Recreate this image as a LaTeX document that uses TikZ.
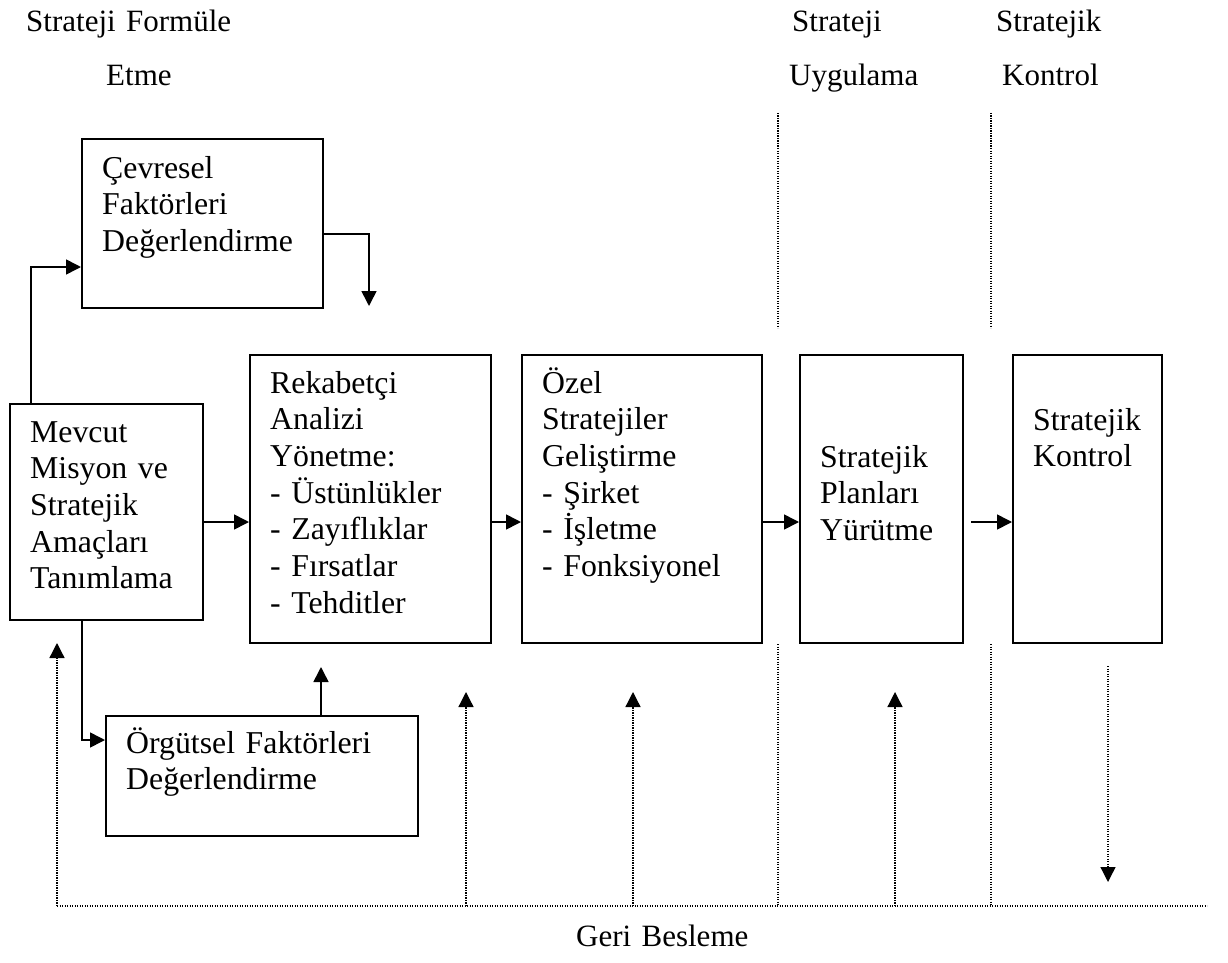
\documentclass[tikz,border=0pt]{standalone}
\usepackage{fontspec}
\setmainfont{Liberation Serif}
\usetikzlibrary{arrows.meta,calc}
\begin{document}
\begin{tikzpicture}[x=1pt,y=-1pt,
  boxstyle/.style={draw,line width=2pt,rectangle,inner sep=0pt},
  txt/.style={anchor=base west,inner sep=0pt,text width=320pt,align=left,
    font=\fontsize{31.8}{36.7}\selectfont},
  hdr/.style={txt,font=\fontsize{31}{36.7}\selectfont},
  arr/.style={line width=1.6pt,-{Triangle[length=15pt,width=15pt]}},
  dotline/.style={line width=1.3pt,dash pattern=on 1.2pt off 1.3pt},
  dotarr/.style={dotline,-{Triangle[length=15pt,width=15pt]}}]
\useasboundingbox (0,0) rectangle (1228,963);

% boxes
\node[boxstyle,anchor=north west,minimum width=241pt,minimum height=169pt] (cev) at (81,138) {};
\node[boxstyle,anchor=north west,minimum width=193pt,minimum height=216pt] (mev) at (9,403) {};
\node[boxstyle,anchor=north west,minimum width=241pt,minimum height=288pt] (rek) at (249,354) {};
\node[boxstyle,anchor=north west,minimum width=240pt,minimum height=288pt] (ozel) at (521,354) {};
\node[boxstyle,anchor=north west,minimum width=163pt,minimum height=288pt] (plan) at (799,354) {};
\node[boxstyle,anchor=north west,minimum width=149pt,minimum height=288pt] (kont) at (1012,354) {};
\node[boxstyle,anchor=north west,minimum width=312pt,minimum height=120pt] (org) at (105,715) {};

% box texts
\node[txt] (cevT) at (102,178) {Çevresel\\Faktörleri\\Değerlendirme};
\node[txt] (mevT) at (30,442) {Mevcut\\Misyon ve\\Stratejik\\Amaçları\\Tanımlama};
\node[txt] (rekT) at (270,393) {Rekabetçi\\Analizi\\Yönetme:\\- Üstünlükler\\- Zayıflıklar\\- Fırsatlar\\- Tehditler};
\node[txt] (ozelT) at (542,393) {Özel\\Stratejiler\\Geliştirme\\- Şirket\\- İşletme\\- Fonksiyonel};
\node[txt] (planT) at (820,467) {Stratejik\\Planları\\Yürütme};
\node[txt] (kontT) at (1033,430) {Stratejik\\Kontrol};
\node[txt] (orgT) at (126,753) {Örgütsel Faktörleri\\Değerlendirme};

% headers
\node[hdr] (h1) at (26,32) {Strateji Formüle};
\node[hdr] (h2) at (106,86) {Etme};
\node[hdr] (h3) at (792,32) {Strateji};
\node[hdr] (h4) at (789,86) {Uygulama};
\node[hdr] (h5) at (996,32) {Stratejik};
\node[hdr] (h6) at (1002,86) {Kontrol};
\node[hdr] (geri) at (576,946) {Geri Besleme};

% solid connectors
\coordinate (c1) at (31,267);
\draw[arr] (mev.north -| c1) -- (c1) -- (c1 -| cev.west);
\coordinate (c2a) at (369,234);
\coordinate (c2) at (369,306);
\draw[arr] (c2a -| cev.east) -- (c2a) -- (c2);
\coordinate (y1) at (0,522);
\draw[arr] (y1 -| mev.east) -- (y1 -| rek.west);
\draw[arr] (y1 -| rek.east) -- (y1 -| ozel.west);
\draw[arr] (y1 -| ozel.east) -- (y1 -| plan.west);
\draw[arr] ($(y1 -| plan.east)+(7,0)$) -- (y1 -| kont.west);
\coordinate (c3) at (82,740);
\draw[arr] (mev.south -| c3) -- (c3) -- (c3 -| org.west);
\coordinate (c4) at (321,667);
\draw[arr] (org.north -| c4) -- (c4);

% feedback (dotted)
\coordinate (fbL) at (57,906);
\coordinate (fbR) at (1207,906);
\draw[dotline] (fbL) -- (fbR);
\coordinate (t0) at (57,643);
\draw[dotarr] (fbL) -- (t0);
\coordinate (t1) at (466,692);
\coordinate (t2) at (633,692);
\coordinate (t3) at (895,692);
\draw[dotarr] (fbL -| t1) -- (t1);
\draw[dotarr] (fbL -| t2) -- (t2);
\draw[dotarr] (fbL -| t3) -- (t3);
\coordinate (d1) at (1108,666);
\coordinate (d2) at (1108,882);
\draw[dotarr] (d1) -- (d2);

% dotted dividers
\coordinate (v1) at (778,113);
\coordinate (v2) at (991,113);
\draw[dotline] (v1) -- (778,328);
\draw[dotline] (v2) -- (991,328);
\draw[dotline] (plan.south west -| v1) -- (fbL -| v1);
\draw[dotline] (kont.south west -| v2) -- (fbL -| v2);
\end{tikzpicture}
\end{document}
